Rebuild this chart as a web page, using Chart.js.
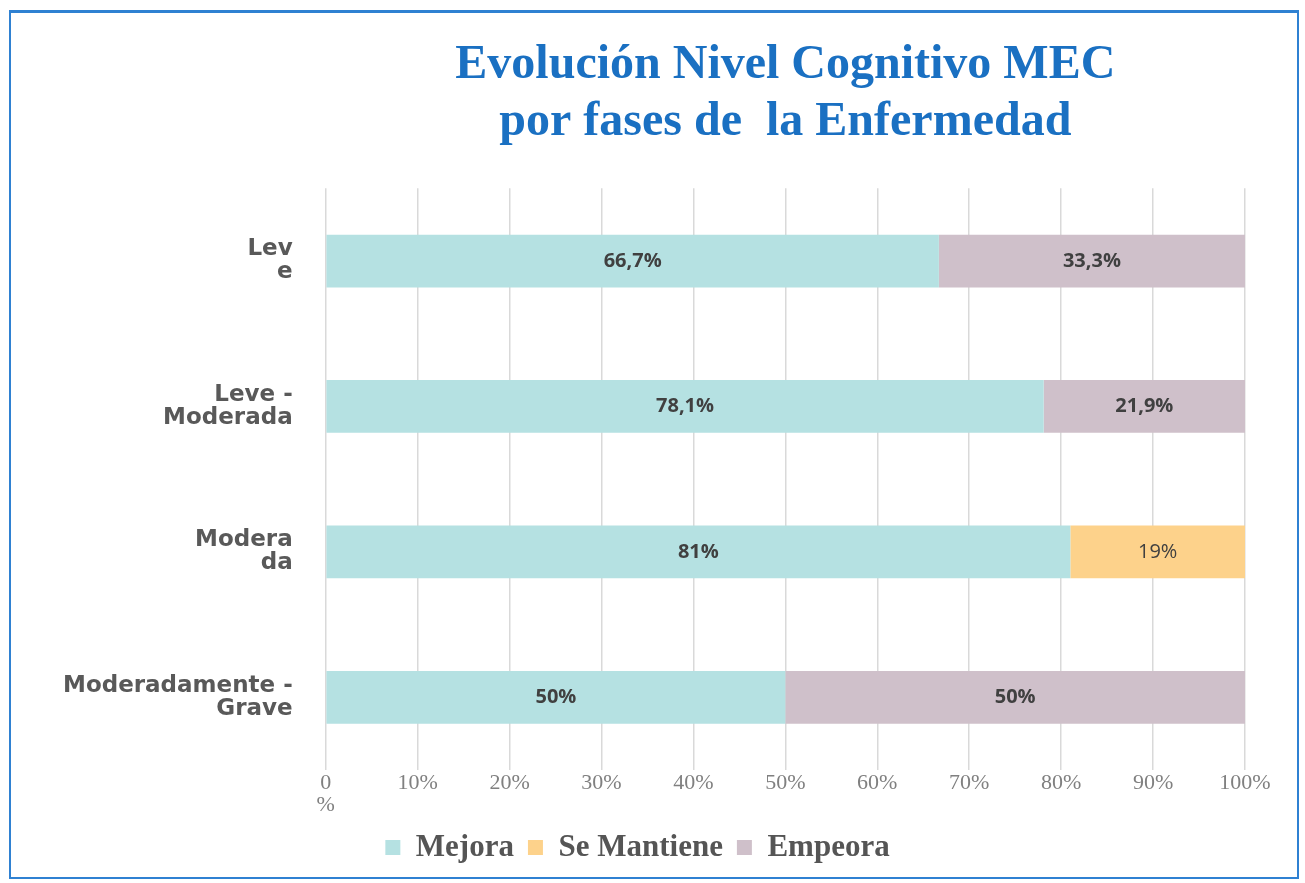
<!DOCTYPE html>
<html>
<head>
<meta charset="utf-8">
<script src="https://cdn.jsdelivr.net/npm/chart.js@4/dist/chart.umd.min.js"></script>
<style>
  html, body { margin: 0; padding: 0; background: #fff; }
  #wrap { position: relative; width: 1305px; height: 883px; }
  #frame {
    position: absolute; left: 9px; top: 10px; width: 1286px; height: 864px;
    border: 2px solid #2f81d2; border-top-width: 3px; pointer-events: none;
  }
</style>
</head>
<body>
<div id="wrap">
  <canvas id="chart" width="1305" height="883"></canvas>
  <div id="frame"></div>
</div>
<script>
const categories = [
  ['Lev', 'e'],
  ['Leve -', 'Moderada'],
  ['Modera', 'da'],
  ['Moderadamente -', 'Grave']
];
const mejora = [66.7, 78.1, 81, 50];
const seMantiene = [0, 0, 19, 0];
const empeora = [33.3, 21.9, 0, 50];
const xTickLabels = [['0', '%'], '10%', '20%', '30%', '40%', '50%', '60%', '70%', '80%', '90%', '100%'];

// draws the percentage inside each bar segment
const barLabels = {
  id: 'barLabels',
  afterDatasetsDraw(chart) {
    const ctx = chart.ctx;
    ctx.save();
    chart.data.datasets.forEach((ds, i) => {
      const meta = chart.getDatasetMeta(i);
      meta.data.forEach((bar, j) => {
        const v = ds.data[j];
        if (!v) return;
        const p = bar.getProps(['x', 'y', 'base'], true);
        ctx.font = ds.labelFont;
        ctx.fillStyle = '#404040';
        ctx.textAlign = 'center';
        ctx.textBaseline = 'middle';
        ctx.fillText(String(v).replace('.', ',') + '%', (p.x + p.base) / 2, p.y);
      });
    });
    ctx.restore();
  }
};

new Chart(document.getElementById('chart'), {
  type: 'bar',
  data: {
    labels: categories,
    datasets: [
      { label: 'Mejora', data: mejora, backgroundColor: '#b5e1e2', labelFont: 'bold 20px "Open Sans"' },
      { label: 'Se Mantiene', data: seMantiene, backgroundColor: '#fdd28b', labelFont: '20px "Open Sans"' },
      { label: 'Empeora', data: empeora, backgroundColor: '#cfc0ca', labelFont: 'bold 20px "Open Sans"' }
    ]
  },
  options: {
    indexAxis: 'y',
    responsive: false,
    animation: false,
    datasets: {
      bar: { barPercentage: 0.363, categoryPercentage: 1 }
    },
    layout: { padding: { left: 30, right: 60, top: 24, bottom: 10 } },
    plugins: {
      title: {
        display: true,
        fullSize: false,
        text: ['Evolución Nivel Cognitivo MEC', 'por fases de  la Enfermedad'],
        color: '#1a70c2',
        font: { family: '"Liberation Serif"', size: 48, weight: 'bold', lineHeight: 1.17 },
        padding: { top: 14, bottom: 38 }
      },
      legend: {
        position: 'bottom',
        labels: {
          color: '#555555',
          boxWidth: 15,
          boxHeight: 15,
          padding: 14,
          font: { family: '"Liberation Serif"', size: 31, weight: 'bold' }
        }
      },
      tooltip: { enabled: false }
    },
    scales: {
      x: {
        stacked: true,
        min: 0,
        max: 100,
        border: { display: false },
        grid: { color: '#d9d9d9', lineWidth: 1.5, drawTicks: false },
        ticks: {
          stepSize: 10,
          padding: 2,
          color: '#808080',
          font: { family: '"Liberation Serif"', size: 22, lineHeight: 1.0 },
          callback: (value, index) => xTickLabels[index]
        }
      },
      y: {
        stacked: true,
        border: { display: false },
        grid: { display: false, drawTicks: false },
        ticks: {
          padding: 33,
          color: '#595959',
          font: { family: '"DejaVu Sans"', size: 23, weight: 'bold', lineHeight: 1.0 }
        }
      }
    }
  },
  plugins: [barLabels]
});
</script>
</body>
</html>
